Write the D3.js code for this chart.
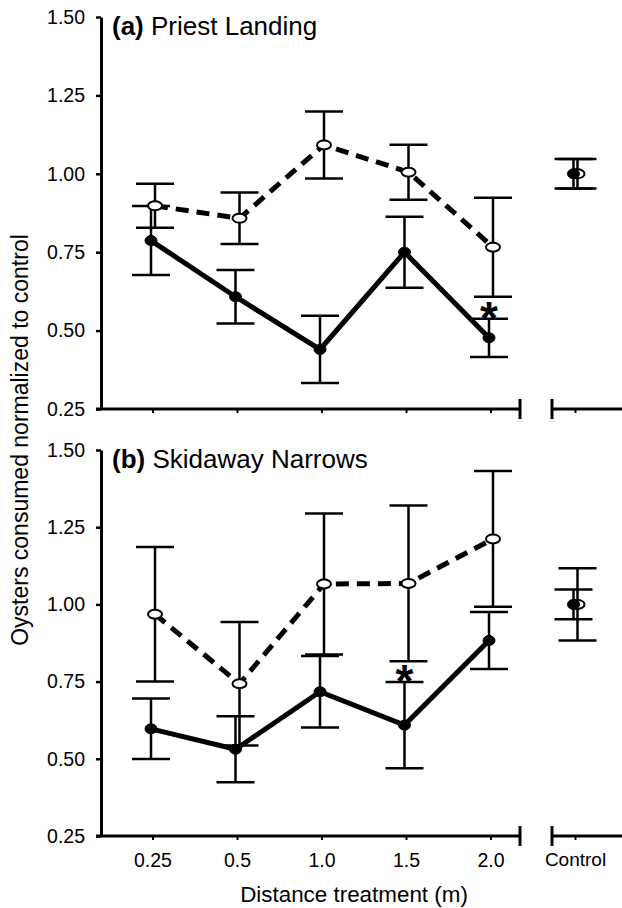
<!DOCTYPE html>
<html lang="en">
  <head>
    <title>Oysters consumed</title>
    <script src="https://cdn.jsdelivr.net/npm/d3@7"></script>
    <style>
      body { margin: 0; background: #fff; }
      text { font-family: 'Liberation Sans', Arial, sans-serif; fill: #000; }
    </style>
  </head>

  <body>
    <div id='chart'></div>

    <script type='text/javascript'>
      // categories (last one is the control, drawn after the axis break)
      let categories = ['0.25', '0.5', '1.0', '1.5', '2.0', 'Control'];
      let yTicks = [0.25, 0.5, 0.75, 1.0, 1.25, 1.5];

      // (a) Priest Landing
      let aSolidMean = [0.787, 0.608, 0.440, 0.750, 0.477, 1.000];
      let aSolidSE   = [0.110, 0.085, 0.107, 0.113, 0.061, 0.047];
      let aOpenMean  = [0.898, 0.858, 1.092, 1.005, 0.766, 1.000];
      let aOpenSE    = [0.070, 0.082, 0.107, 0.088, 0.158, 0.047];
      let aStars     = ['2.0'];

      // (b) Skidaway Narrows
      let bSolidMean = [0.597, 0.531, 0.717, 0.609, 0.883, 1.000];
      let bSolidSE   = [0.098, 0.107, 0.116, 0.140, 0.092, 0.048];
      let bOpenMean  = [0.968, 0.743, 1.066, 1.068, 1.212, 1.000];
      let bOpenSE    = [0.218, 0.200, 0.228, 0.252, 0.220, 0.117];
      let bStars     = ['1.5'];

      let width = 622, height = 908;
      let svg = d3.select('#chart').append('svg')
        .attr('width', width)
        .attr('height', height)

      let x = d3.scalePoint()
        .domain(categories)
        .range([153, 575.5])

      let axisX = 101, breakLeft = 520, breakRight = 552;

      function panel(opts){
        let y = d3.scaleLinear()
          .domain([0.25, 1.5])
          .range([opts.bottom, opts.top])

        let g = svg.append('g')

        // y axis
        let ya = g.append('g')
          .attr('transform', 'translate(' + axisX + ',0)')
          .call(d3.axisLeft(y).tickValues(yTicks).tickFormat(d3.format('.2f'))
            .tickSize(5).tickSizeOuter(0).tickPadding(11))
        ya.select('.domain').attr('stroke-width', 3)
        ya.selectAll('.tick line').attr('stroke-width', 2.5)
        ya.selectAll('text').attr('font-size', '19.5px')
          .style('font-family', "'Liberation Sans', Arial, sans-serif")

        // x axis, broken before the control
        let xb = opts.bottom
        g.append('line').attr('x1', axisX - 5).attr('x2', breakLeft)
          .attr('y1', xb).attr('y2', xb).attr('stroke', '#000').attr('stroke-width', 3)
        g.append('line').attr('x1', breakRight).attr('x2', width)
          .attr('y1', xb).attr('y2', xb).attr('stroke', '#000').attr('stroke-width', 3)
        g.selectAll('.cap-end')
          .data([breakLeft, breakRight])
          .enter().append('line')
          .attr('x1', d => d).attr('x2', d => d)
          .attr('y1', xb - 10).attr('y2', xb + 10)
          .attr('stroke', '#000').attr('stroke-width', 3)
        g.selectAll('.xtick')
          .data(categories)
          .enter().append('line')
          .attr('x1', d => x(d)).attr('x2', d => x(d))
          .attr('y1', xb).attr('y2', xb + 4)
          .attr('stroke', '#000').attr('stroke-width', 2)
        if(opts.labels){
          g.selectAll('.xlabel')
            .data(categories)
            .enter().append('text')
            .attr('x', d => x(d))
            .attr('y', xb + 17)
            .attr('dy', '0.71em')
            .attr('text-anchor', 'middle')
            .attr('font-size', d => d == 'Control' ? '19px' : '19.5px')
            .text(d => d)
        }

        let layers = {lines: g.append('g'), bars: g.append('g'), open: g.append('g'), filled: g.append('g')}

        // error bars and points for one series
        function series(mean, se, dx, filled, dashed){
          let pts = categories.map((c, i) => ({c: c, m: mean[i], s: se[i]}))

          let line = d3.line().x(d => x(d.c) + dx).y(d => y(d.m))
          layers.lines.append('path')
            .datum(pts.slice(0, 5))
            .attr('d', line)
            .attr('fill', 'none')
            .attr('stroke', '#000')
            .attr('stroke-width', 5)
            .attr('stroke-dasharray', dashed ? '13,8' : null)

          let eb = layers.bars.append('g').selectAll('g')
            .data(pts)
            .enter().append('g')
          eb.append('line')
            .attr('x1', d => x(d.c) + dx).attr('x2', d => x(d.c) + dx)
            .attr('y1', d => y(d.m + d.s)).attr('y2', d => y(d.m - d.s))
            .attr('stroke', '#000').attr('stroke-width', 2.5)
          eb.selectAll('.cap')
            .data(d => [d.m + d.s, d.m - d.s].map(v => ({c: d.c, v: v})))
            .enter().append('line')
            .attr('x1', d => x(d.c) + dx - 19).attr('x2', d => x(d.c) + dx + 19)
            .attr('y1', d => y(d.v)).attr('y2', d => y(d.v))
            .attr('stroke', '#000').attr('stroke-width', 2.5)

          layers[filled ? 'filled' : 'open'].selectAll('ellipse')
            .data(pts)
            .enter().append('ellipse')
            .attr('cx', d => x(d.c) + dx)
            .attr('cy', d => y(d.m))
            .attr('rx', filled ? 6 : 7)
            .attr('ry', filled ? 5 : 4.5)
            .attr('fill', filled ? '#000' : '#fff')
            .attr('stroke', '#000')
            .attr('stroke-width', filled ? 1 : 2)
        }

        series(opts.solidMean, opts.solidSE, -2, true, false)
        series(opts.openMean, opts.openSE, 2, false, true)

        // significance asterisks above the solid series
        g.selectAll('.star')
          .data(opts.stars)
          .enter().append('text')
          .attr('x', d => x(d) - 2)
          .attr('y', d => {
            let i = categories.indexOf(d)
            return y(opts.solidMean[i] + opts.solidSE[i]) + 15
          })
          .attr('text-anchor', 'middle')
          .attr('font-size', '46px')
          .attr('font-weight', 'bold')
          .attr('fill', '#000')
          .text('*')

        // panel title
        let t = g.append('text')
          .attr('x', 112)
          .attr('y', opts.top + 18)
          .attr('font-size', '26px')
        t.append('tspan').attr('font-weight', 'bold').text(opts.tag)
        t.append('tspan').text(' ' + opts.name)
      }

      panel({top: 17, bottom: 409, tag: '(a)', name: 'Priest Landing',
             solidMean: aSolidMean, solidSE: aSolidSE,
             openMean: aOpenMean, openSE: aOpenSE, stars: aStars, labels: false})
      panel({top: 450, bottom: 836, tag: '(b)', name: 'Skidaway Narrows',
             solidMean: bSolidMean, solidSE: bSolidSE,
             openMean: bOpenMean, openSE: bOpenSE, stars: bStars, labels: true})

      // axis titles
      svg.append('text')
        .attr('x', 354)
        .attr('y', 902)
        .attr('text-anchor', 'middle')
        .attr('font-size', '22.4px')
        .text('Distance treatment (m)')

      svg.append('text')
        .attr('transform', 'translate(28,440) rotate(-90)')
        .attr('text-anchor', 'middle')
        .attr('font-size', '23px')
        .text('Oysters consumed normalized to control')
    </script>
  </body>
</html>
